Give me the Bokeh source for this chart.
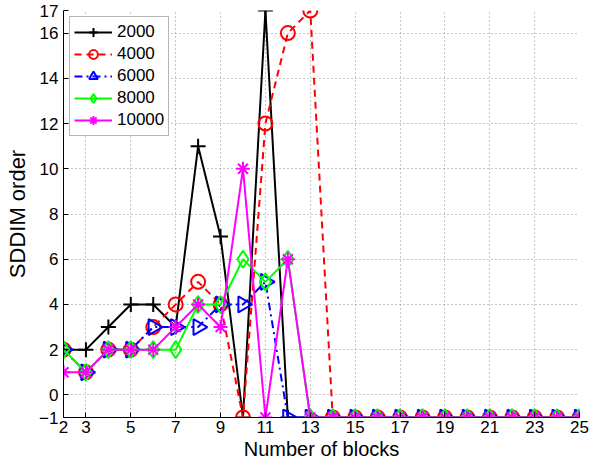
import math
from bokeh.plotting import figure
from bokeh.models import Range1d, FixedTicker, Legend, LegendItem, ColumnDataSource
from bokeh.embed import file_html
from bokeh.resources import INLINE

blocks = list(range(2, 26))
s2000 = [2, 2, 3, 4, 4, 3, 11, 7, -1, 17, -1] + [-1] * 13
s4000 = [2, 1, 2, 2, 3, 4, 5, 4, -1, 12, 16, 17] + [-1] * 12
s6000 = [2, 1, 2, 2, 3, 3, 3, 4, 4, 5, -1] + [-1] * 13
s8000 = [2, 1, 2, 2, 2, 2, 4, 4, 6, 5, 6] + [-1] * 13
s10000 = [1, 1, 2, 2, 2, 3, 4, 3, 10, -1, 6] + [-1] * 13
series_names = ["2000", "4000", "6000", "8000", "10000"]
x_ticks = [2, 3, 5, 7, 9, 11, 13, 15, 17, 19, 21, 23, 25]
y_ticks = [-1, 0, 2, 4, 6, 8, 10, 12, 14, 16, 17]

FONT = "Liberation Sans"

p = figure(width=603, height=468, output_backend="svg", toolbar_location=None,
           x_range=Range1d(2, 25), y_range=Range1d(-1, 17),
           min_border_left=63, min_border_right=24, min_border_top=10, min_border_bottom=51)
p.outline_line_color = None
p.background_fill_color = "white"

for ax, ticks in ((p.xaxis[0], x_ticks), (p.yaxis[0], y_ticks)):
    ax.ticker = FixedTicker(ticks=ticks)
    ax.major_tick_in = 5
    ax.major_tick_out = 0
    ax.minor_tick_in = 0
    ax.minor_tick_out = 0
    ax.axis_line_color = "black"
    ax.major_tick_line_color = "black"
    ax.major_label_text_font = FONT
    ax.major_label_text_font_size = "17px"
    ax.major_label_text_color = "black"
    ax.axis_label_text_font = FONT
    ax.axis_label_text_font_style = "normal"
    ax.axis_label_text_color = "black"

p.xaxis.axis_label = "Number of blocks"
p.xaxis.axis_label_text_font_size = "20px"
p.xaxis.major_label_standoff = 3
p.xaxis.axis_label_standoff = 2
p.yaxis.axis_label = "SDDIM order"
p.yaxis.axis_label_text_font_size = "22px"
p.yaxis.major_label_standoff = 5
p.yaxis.axis_label_standoff = 6
p.yaxis.major_label_overrides = {-1: "\u22121"}

for g in (p.xgrid[0], p.ygrid[0]):
    g.grid_line_color = "#8a8a8a"
    g.grid_line_dash = "1 3"
    g.grid_line_width = 1
p.xgrid.ticker = FixedTicker(ticks=x_ticks)
p.ygrid.ticker = FixedTicker(ticks=y_ticks)

styles = [
    (s2000, "#000000", "solid", "cross", 15, 0.0),
    (s4000, "#ff0000", "7 5", "circle", 14, 0.0),
    (s6000, "#0000ff", "8 4 2 4", "triangle", 16, -math.pi / 2),
    (s8000, "#00ff00", "solid", "diamond", 17, 0.0),
    (s10000, "#ff00ff", "solid", "asterisk", 14, 0.0),
]

items = []
for name, (vals, col, dash, marker, size, ang) in zip(series_names, styles):
    src = ColumnDataSource(dict(x=blocks, y=vals))
    ln = p.line("x", "y", source=src, line_color=col, line_width=2, line_dash=dash)
    sc = p.scatter("x", "y", source=src, marker=marker, size=size, angle=ang,
                   line_color=col, line_width=2, fill_color=None)
    items.append(LegendItem(label=name, renderers=[ln, sc]))

legend = Legend(items=items, location="top_left")
legend.label_text_font = FONT
legend.label_text_font_size = "17px"
legend.label_text_color = "black"
legend.glyph_width = 38
legend.glyph_height = 22
legend.label_height = 22
legend.label_standoff = 5
legend.spacing = 0
legend.padding = 4
legend.margin = 6
legend.border_line_color = "#707070"
legend.border_line_width = 1
legend.background_fill_color = "white"
legend.background_fill_alpha = 1.0
p.add_layout(legend, "center")

open("out.html", "w").write(file_html(p, INLINE))
